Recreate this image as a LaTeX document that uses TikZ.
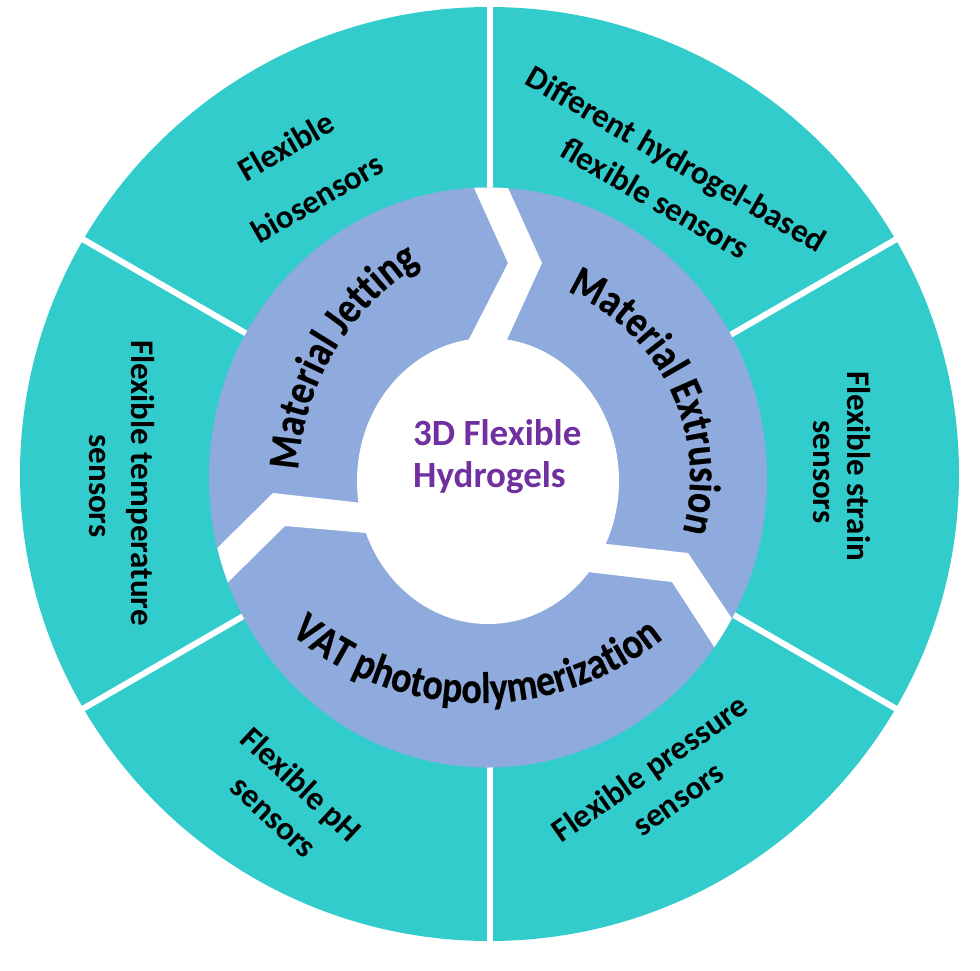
\documentclass[tikz,border=0pt]{standalone}
\usepackage{fontspec}
\setmainfont{Carlito}
\newfontfamily\ringfam{Carlito}[FakeStretch=0.86,FakeBold=0.4]
\usetikzlibrary{decorations.text,calc}
\definecolor{tealc}{RGB}{51,204,204}
\definecolor{ringblue}{RGB}{143,170,220}
\definecolor{hpurple}{RGB}{112,48,160}
\newcommand\ringfont{\ringfam\fontsize{44}{48}\selectfont\bfseries}
\begin{document}
\begin{tikzpicture}[x=1pt,y=-1pt,
  lbl/.style={font=\fontsize{33}{40}\selectfont\bfseries, text=black, inner sep=0pt, anchor=center},
  sepline/.style={draw=white, line width=6pt},
  gapfill/.style={fill=white},
  ctext/.style={font=\fontsize{37}{42}\selectfont\bfseries, text=hpurple, inner sep=0pt, anchor=base west},
  ringtext/.style={decorate, decoration={text along path, text align=center, text={|\ringfont|#1}}}]
\useasboundingbox (0,0) rectangle (980,970);
\coordinate (C) at (489.5,474);
\coordinate (B) at (488,477.5);
\coordinate (W) at (488,481);
% outer ring
\fill[tealc] (C) ellipse [x radius=469.5, y radius=467];
\foreach \a in {30,90,150,210,270,330} \draw[sepline] (C) -- ($(C)+(\a:480)$);
% middle ring
\fill[ringblue] (B) ellipse [x radius=279, y radius=290];
\begin{scope}
  \clip (B) ellipse [x radius=279, y radius=290];
  \fill[gapfill] (465,168) -- (508,263) -- (466,345) -- (500,355) -- (542,263) -- (499,168) -- cycle;
  \fill[gapfill] (197,568) -- (273,493) -- (380,505) -- (390,535) -- (285,526) -- (208,602) -- cycle;
  \fill[gapfill] (580,541) -- (688,553) -- (753,650) -- (735,679) -- (672,582) -- (563,569) -- cycle;
\end{scope}
% centre
\fill[white] (W) ellipse [x radius=131, y radius=143];
\node[ctext] (t1) at (413,445) {3D Flexible};
\node[ctext] (t2) at (413,487) {Hydrogels};
% ring texts (y upwards inside these scopes)
\begin{scope}[shift={(555,483)}, y=1pt]
  \path[ringtext={Material Jetting}] (189.4:257) arc[start angle=189.4, end angle=109.4, radius=257];
\end{scope}
\begin{scope}[shift={(488,477.5)}, y=1pt]
  \path[ringtext={Material Extrusion}] (85.7:202) arc[start angle=85.7, end angle=-34.3, radius=202];
\end{scope}
\begin{scope}[shift={(480,410)}, y=1pt]
  \path[ringtext={VAT photopolymerization}] (219.2:293) arc[start angle=219.2, end angle=319.2, radius=293];
\end{scope}
% outer labels
\node[lbl, rotate=30] (bio1) at (286,146) {Flexible};
\node[lbl, rotate=30] (bio2) at (317,198) {biosensors};
\node[lbl, rotate=-30] (dif1) at (675,161) {Different hydrogel-based};
\node[lbl, rotate=-30] (dif2) at (655,198) {flexible sensors};
\node[lbl, rotate=-90] (str1) at (859,466) {Flexible strain};
\node[lbl, rotate=-90] (str2) at (822,472) {sensors};
\node[lbl, rotate=-90] (tem1) at (140,483) {Flexible temperature};
\node[lbl, rotate=-90] (tem2) at (98,486) {sensors};
\node[lbl, rotate=-43] (ph1) at (300,786) {Flexible pH};
\node[lbl, rotate=-43] (ph2) at (272,819) {sensors};
\node[lbl, rotate=35] (pre1) at (651,770) {Flexible pressure};
\node[lbl, rotate=35] (pre2) at (680,801) {sensors};
\end{tikzpicture}
\end{document}
